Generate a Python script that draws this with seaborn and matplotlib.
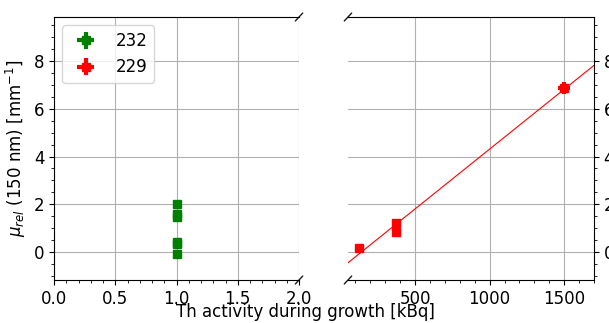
import matplotlib
matplotlib.use('Agg')
import matplotlib.pyplot as plt
from matplotlib.ticker import AutoMinorLocator
import seaborn as sns
import numpy as np
import pandas as pd

# data
th232_activity = [1.0, 1.0, 1.0, 1.0, 1.0, 1.0]
th232_mu = [2.02, 1.6, 1.45, 0.42, 0.35, -0.08]
th232_xerr = [0.005, 0.005, 0.005, 0.005, 0.005, 0.005]
th232_yerr = [0.1, 0.1, 0.1, 0.1, 0.1, 0.1]

th229_activity = [125, 375, 375, 1500]
th229_mu = [0.18, 1.23, 0.82, 6.87]
th229_xerr = [10, 10, 10, 40]
th229_yerr = [0.1, 0.1, 0.1, 0.27]

df229 = pd.DataFrame({'activity': th229_activity, 'mu': th229_mu})

sns.set_theme(style="ticks", rc={'axes.grid': True, 'grid.color': '#b0b0b0',
                                 'grid.linewidth': 0.8, 'font.size': 12,
                                 'axes.labelsize': 12, 'xtick.labelsize': 12,
                                 'ytick.labelsize': 12, 'legend.fontsize': 12,
                                 'text.color': 'black', 'axes.labelcolor': 'black',
                                 'xtick.color': 'black', 'ytick.color': 'black'})
plt.rcParams['font.family'] = ['DejaVu Sans']

fig = plt.figure(figsize=(6.09, 3.23), dpi=100)
ax1 = fig.add_axes([0.0887, 0.1331, 0.4023, 0.8142])
ax2 = fig.add_axes([0.5714, 0.1331, 0.4039, 0.8142])

ylim = (-1.17, 9.84)

# left panel: 232
ax1.errorbar(th232_activity, th232_mu, xerr=th232_xerr, yerr=th232_yerr,
             fmt='s', color='green', ms=6, elinewidth=3, capsize=0, label='232')
# dummy for legend entry of 229
ax1.errorbar([np.nan], [np.nan], xerr=[1], yerr=[1], fmt='s', color='red',
             ms=6, elinewidth=3, capsize=0, label='229')
ax1.set_xlim(0, 2)
ax1.set_ylim(*ylim)
ax1.set_xticks([0, 0.5, 1.0, 1.5, 2.0])
ax1.set_yticks([0, 2, 4, 6, 8])
ax1.xaxis.set_minor_locator(AutoMinorLocator())
ax1.yaxis.set_minor_locator(AutoMinorLocator())
ax1.spines['right'].set_visible(False)
ax1.set_ylabel(r'$\mu_{rel}$ (150 nm) [mm$^{-1}$]')
ax1.legend(loc='upper left', frameon=True)

# right panel: 229
ax2.set_xlim(50, 1700)
ax2.set_ylim(*ylim)
ax2.errorbar(th229_activity, th229_mu, xerr=th229_xerr, yerr=th229_yerr,
             fmt='s', color='red', ms=6, elinewidth=3, capsize=0)
sns.regplot(data=df229, x='activity', y='mu', ax=ax2, scatter=False, ci=None,
            truncate=False, color='red', line_kws={'lw': 0.8})
ax2.set_xlim(50, 1700)
ax2.set_ylim(*ylim)
ax2.set_xticks([500, 1000, 1500])
ax2.set_yticks([0, 2, 4, 6, 8])
ax2.xaxis.set_minor_locator(AutoMinorLocator())
ax2.yaxis.set_minor_locator(AutoMinorLocator())
ax2.spines['left'].set_visible(False)
ax2.yaxis.tick_right()
ax2.set_xlabel('')
ax2.set_ylabel('')

for ax in (ax1, ax2):
    ax.tick_params(which='both', direction='out', colors='black')
    ax.tick_params(which='major', length=3.5, width=0.8)
    ax.tick_params(which='minor', length=2, width=0.6)
    for s in ax.spines.values():
        s.set_color('black')
        s.set_linewidth(0.8)

# break marks
d = 0.015
kw = dict(transform=ax1.transAxes, color='k', clip_on=False, lw=1)
ax1.plot((1 - d, 1 + d), (-d, +d), **kw)
ax1.plot((1 - d, 1 + d), (1 - d, 1 + d), **kw)
kw.update(transform=ax2.transAxes)
ax2.plot((-d, +d), (-d, +d), **kw)
ax2.plot((-d, +d), (1 - d, 1 + d), **kw)

fig.text(0.501, 0.018, 'Th activity during growth [kBq]', ha='center', va='baseline',
         fontsize=12, color='black')

fig.savefig('out.png', dpi=100)
